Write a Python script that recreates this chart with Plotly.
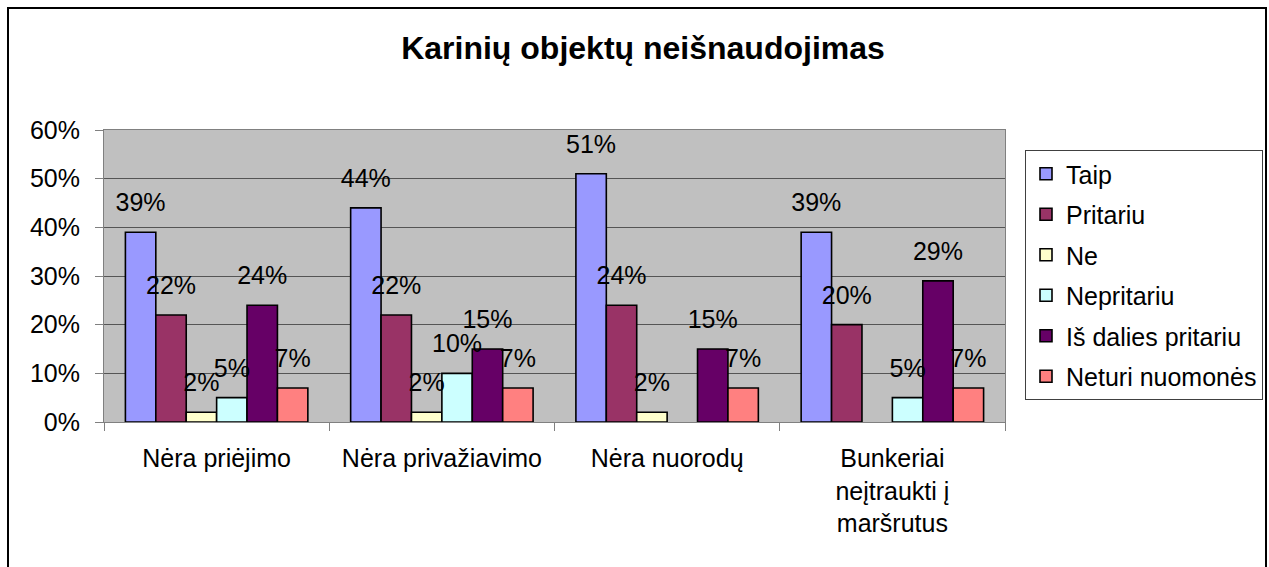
import plotly.graph_objects as go

categories = ["Nėra priėjimo", "Nėra privažiavimo", "Nėra nuorodų", "Bunkeriai<br>neįtraukti į<br>maršrutus"]
series_names = ["Taip", "Pritariu", "Ne", "Nepritariu", "Iš dalies pritariu", "Neturi nuomonės"]
taip = [39, 44, 51, 39]
pritariu = [22, 22, 24, 20]
ne = [2, 2, 2, None]
nepritariu = [5, 10, None, 5]
is_dalies = [24, 15, 15, 29]
neturi = [7, 7, 7, 7]
series_values = [taip, pritariu, ne, nepritariu, is_dalies, neturi]
colors = ["#9999FF", "#993366", "#FFFFCC", "#CCFFFF", "#660066", "#FF8080"]
y_ticks = [0, 10, 20, 30, 40, 50, 60]
y_tick_labels = [f"{v}%" for v in y_ticks]

FONT = "Liberation Sans, Arial, sans-serif"
W, H = 1269, 567
L, R, T, B = 104, 1005, 130, 422
GAP = 0.19

fig = go.Figure()
for i, (name, vals, col) in enumerate(zip(series_names, series_values, colors)):
    fig.add_trace(go.Bar(
        x=categories, y=vals, name=name, marker=dict(color=col, line=dict(color="black", width=1.6)),
        legendgroup=name, hoverinfo="skip",
    ))
for i, (name, vals) in enumerate(zip(series_names, series_values)):
    fig.add_trace(go.Scatter(
        x=categories, y=vals, mode="markers+text",
        text=["" if v is None else f"{v}%" for v in vals],
        textposition="top center",
        textfont=dict(family=FONT, size=25, color="black"),
        marker=dict(size=22, color="rgba(0,0,0,0)", line=dict(width=0)),
        offsetgroup=str(i), alignmentgroup="lbl",
        showlegend=False, hoverinfo="skip", cliponaxis=False,
    ))

pw, ph = R - L, B - T
fig.update_layout(
    width=W, height=H,
    margin=dict(l=L, r=W - R, t=T, b=H - B, pad=0, autoexpand=False),
    paper_bgcolor="white", plot_bgcolor="#C0C0C0",
    barmode="group", bargap=GAP, bargroupgap=0,
    scattermode="group", scattergap=GAP,
    font=dict(family=FONT, size=25, color="black"),
    title=dict(text="<b>Karinių objektų neišnaudojimas</b>", x=643 / W, xanchor="center",
               y=1 - 48 / H, yanchor="middle", font=dict(family=FONT, size=32, color="black")),
    legend=dict(x=(1025 - L) / pw, xanchor="left", y=(B - 150) / ph, yanchor="top",
                bgcolor="white", bordercolor="#404040", borderwidth=1,
                font=dict(family=FONT, size=25, color="black"),
                tracegroupgap=5, traceorder="grouped"),
    xaxis=dict(type="category", showline=True, linecolor="#808080", linewidth=1, mirror=True,
               ticks="outside", tickson="boundaries", ticklen=8, tickcolor="#808080",
               tickfont=dict(family=FONT, size=25), ticklabelstandoff=14, showgrid=False),
    yaxis=dict(range=[0, 60], tickmode="array", tickvals=y_ticks, ticktext=y_tick_labels,
               showline=True, linecolor="#808080",
               linewidth=1, mirror=True, ticks="outside", ticklen=8, tickcolor="#808080",
               showgrid=True, gridcolor="#555555", gridwidth=1, zeroline=False,
               tickfont=dict(family=FONT, size=25), ticklabelstandoff=10),
    shapes=[dict(type="rect", xref="paper", yref="paper",
                 x0=(8 - L) / pw, x1=(1266 - L) / pw, y0=(B - 580) / ph, y1=(B - 8) / ph,
                 line=dict(color="black", width=2), fillcolor="rgba(0,0,0,0)", layer="below")],
)
fig.write_html("out.html", config={"displayModeBar": False},
               post_script="document.body.style.margin='0';document.body.style.overflow='hidden';")
